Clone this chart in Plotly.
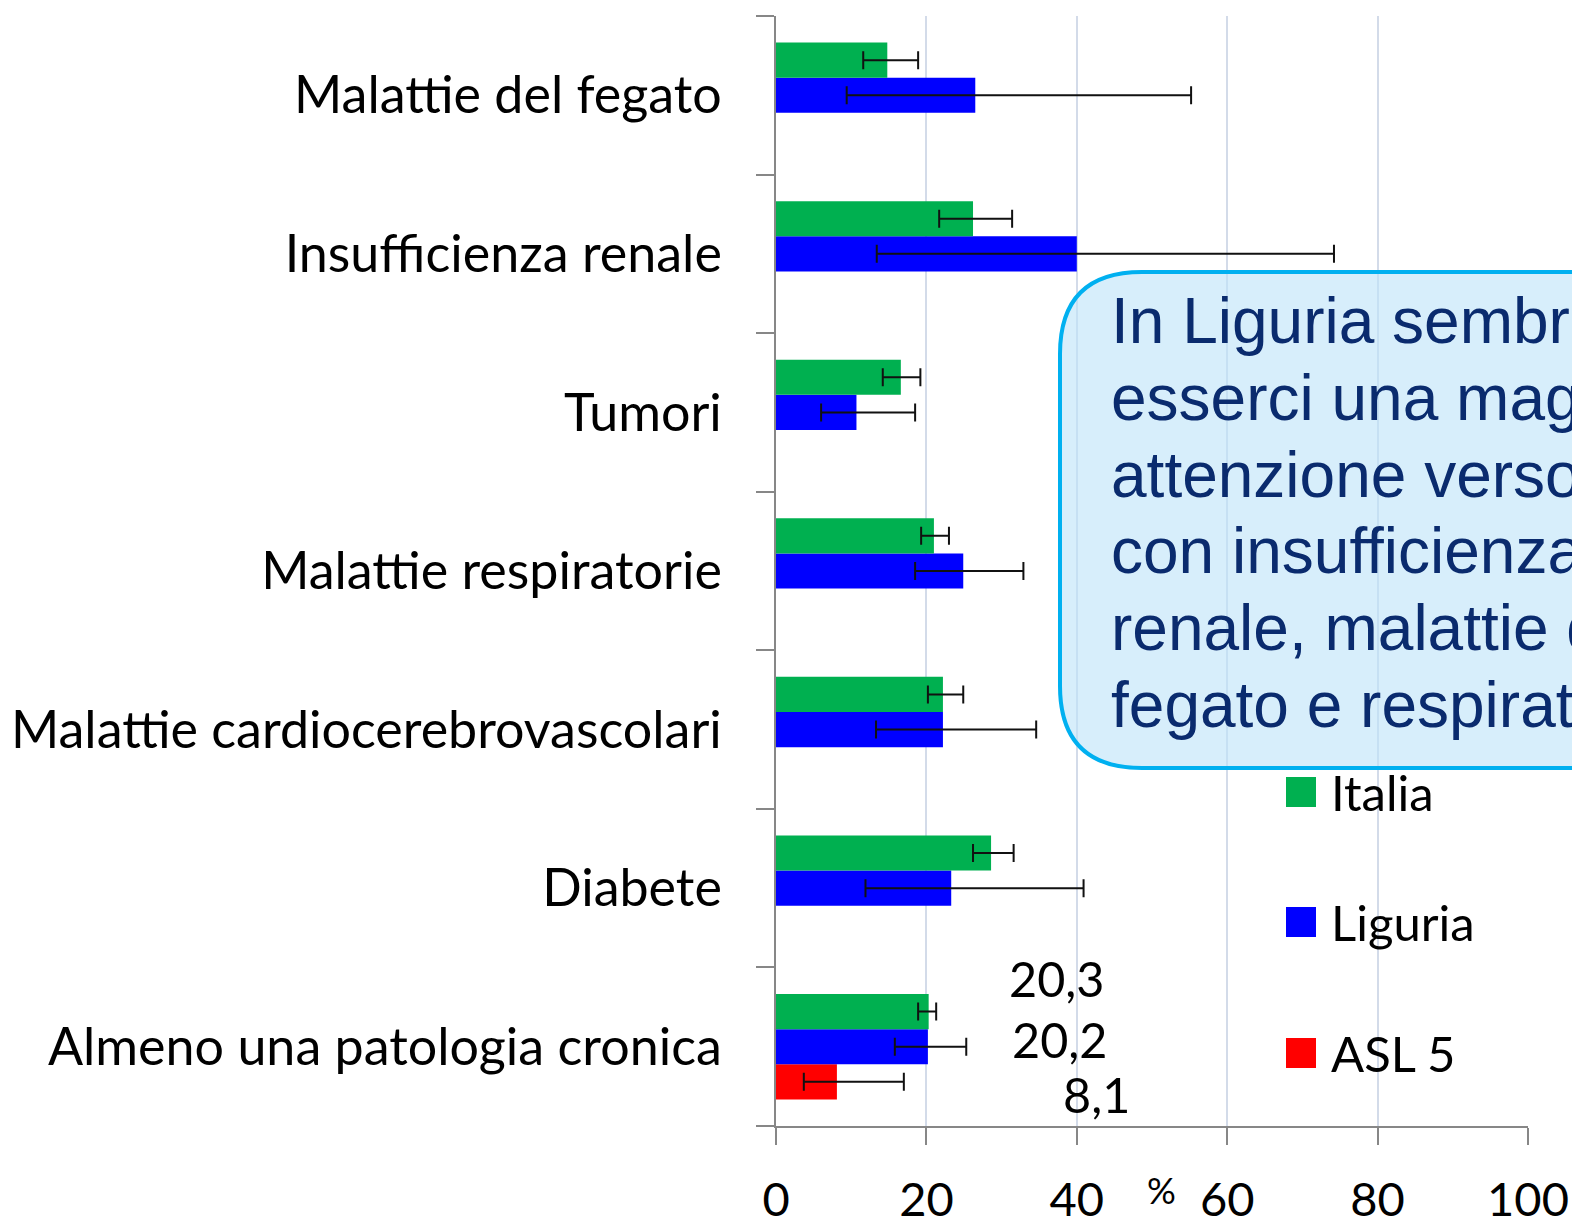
import plotly.graph_objects as go

# ---------------- data ----------------
categories = ["Almeno una patologia cronica", "Diabete", "Malattie cardiocerebrovascolari",
              "Malattie respiratorie", "Tumori", "Insufficienza renale", "Malattie del fegato"]

italia = [20.3, 28.6, 22.2, 21.0, 16.6, 26.2, 14.8]
italia_lo = [18.9, 26.2, 20.2, 19.3, 14.2, 21.7, 11.6]
italia_hi = [21.3, 31.6, 24.9, 23.0, 19.2, 31.4, 18.9]

liguria = [20.2, 23.3, 22.2, 24.9, 10.7, 40.0, 26.5]
liguria_lo = [15.8, 11.9, 13.3, 18.5, 6.0, 13.4, 9.4]
liguria_hi = [25.3, 40.9, 34.6, 32.9, 18.5, 74.2, 55.2]

asl5 = [8.1, None, None, None, None, None, None]
asl5_lo = [3.7, None, None, None, None, None, None]
asl5_hi = [17.0, None, None, None, None, None, None]

series_names = ["Italia", "Liguria", "ASL 5"]
series_colors = ["#00B050", "#0000FF", "#FF0000"]

x_ticks = [0, 20, 40, 60, 80, 100]

callout_lines = ["In Liguria sembra", "esserci una maggiore", "attenzione verso le persone",
                 "con insufficienza", "renale, malattie del", "fegato e respiratorie"]

# ---------------- layout helpers ----------------
# page body margin is removed in post_script, so the figure starts at the window corner
OFF = 0
W, H = 1572 - 2 * OFF, 1220 - 2 * OFF
ML, MT = 776 - OFF, 16 - OFF
PW, PH = 752, 1110
MR, MB = W - ML - PW, H - MT - PH


def px(xw):
    """window x pixel -> paper fraction"""
    return (xw - OFF - ML) / PW


def py(yw):
    """window y pixel -> paper fraction"""
    return (MT + PH - (yw - OFF)) / PH


LABEL_FONT = "Lato, 'Open Sans', sans-serif"


def err(vals, lo, hi):
    plus = [None if v is None else h - v for v, h in zip(vals, hi)]
    minus = [None if v is None else v - l for v, l in zip(vals, lo)]
    return dict(type="data", symmetric=False, array=plus, arrayminus=minus,
                color="#111111", thickness=2, width=9)


fig = go.Figure()
# trace order: first trace drawn lowest within each group
for name, vals, lo, hi, col in [
    ("ASL 5", asl5, asl5_lo, asl5_hi, series_colors[2]),
    ("Liguria", liguria, liguria_lo, liguria_hi, series_colors[1]),
    ("Italia", italia, italia_lo, italia_hi, series_colors[0]),
]:
    fig.add_trace(go.Bar(
        name=name, y=categories, x=vals, orientation="h",
        marker=dict(color=col, line=dict(width=0)),
        error_x=err(vals, lo, hi),
        showlegend=False,
    ))

# value labels for the first category
label_vals = [(italia[0], 69), (liguria[0], 8), (asl5[0], -47)]
label_x = [37.3, 37.7, 42.6]
for (v, ys), lx in zip(label_vals, label_x):
    fig.add_annotation(x=lx, y=categories[0], xref="x", yref="y",
                       text=f"{v:.1f}".replace(".", ","), showarrow=False,
                       yshift=ys, font=dict(family=LABEL_FONT, size=48.5, color="#000000"))

# "%" axis title
fig.add_annotation(x=px(1161), y=py(1190), xref="paper", yref="paper", text="%",
                   xanchor="center", yanchor="middle",
                   showarrow=False, font=dict(family=LABEL_FONT, size=36, color="#000000"))

# manual legend (large square keys)
legend_y = [792, 922, 1053]
for name, col, yc in zip(series_names, series_colors, legend_y):
    fig.add_shape(type="rect", xref="paper", yref="paper",
                  x0=px(1286), x1=px(1316), y0=py(yc + 15), y1=py(yc - 15),
                  fillcolor=col, line=dict(width=0), layer="above")
    fig.add_annotation(x=px(1329), y=py(yc), xref="paper", yref="paper", text=name,
                       xanchor="left", yanchor="middle", showarrow=False,
                       font=dict(family=LABEL_FONT, size=49, color="#000000"))

# callout box (rounded rectangle)
L, T, B, R, r = 1060, 272, 768, 1700, 82
path = f"M {px(L + r)},{py(T)} L {px(R)},{py(T)} L {px(R)},{py(B)} L {px(L + r)},{py(B)} " \
       f"Q {px(L)},{py(B)} {px(L)},{py(B - r)} L {px(L)},{py(T + r)} " \
       f"Q {px(L)},{py(T)} {px(L + r)},{py(T)} Z"
fig.add_shape(type="path", xref="paper", yref="paper", path=path,
              fillcolor="rgba(190,228,248,0.62)", line=dict(color="#00B0F0", width=4),
              layer="above")

baselines = [343, 420, 497, 573, 650, 727]
for txt, bl in zip(callout_lines, baselines):
    fig.add_annotation(x=px(1109), y=py(bl - 22), xref="paper", yref="paper", text=txt,
                       xanchor="left", yanchor="middle", showarrow=False,
                       font=dict(family="'Liberation Sans', Arial, sans-serif", size=64,
                                 color="#0A2B6E"))

fig.update_layout(
    width=W, height=H,
    margin=dict(l=ML, r=MR, t=MT, b=MB, pad=0, autoexpand=False),
    paper_bgcolor="white", plot_bgcolor="white",
    barmode="group", bargap=0.335, bargroupgap=0,
    showlegend=False,
    font=dict(family=LABEL_FONT, size=47, color="#000000"),
    xaxis=dict(range=[0, 100], tickvals=x_ticks, ticktext=[str(t) for t in x_ticks],
               automargin=False, ticklabeloverflow="allow",
               showgrid=True, gridcolor="#D3DBE9", gridwidth=1.5,
               zeroline=False, showline=True, linecolor="#878787", linewidth=1.5,
               ticks="outside", ticklen=17, tickcolor="#878787", tickwidth=1.5,
               ticklabelstandoff=15,
               tickfont=dict(family=LABEL_FONT, size=47, color="#000000")),
    yaxis=dict(type="category", categoryorder="array", categoryarray=categories,
               automargin=False, ticklabeloverflow="allow",
               showgrid=False, zeroline=False, showline=True, linecolor="#878787",
               linewidth=1.5, ticks="outside", ticklen=18, tickcolor="#878787",
               tickwidth=1.5, tickson="boundaries", ticklabelstandoff=42,
               tickfont=dict(family=LABEL_FONT, size=52, color="#000000")),
)

fig.write_html("out.html", config={"displayModeBar": False},
               post_script="document.body.style.margin='0';document.body.style.overflow='hidden';")
